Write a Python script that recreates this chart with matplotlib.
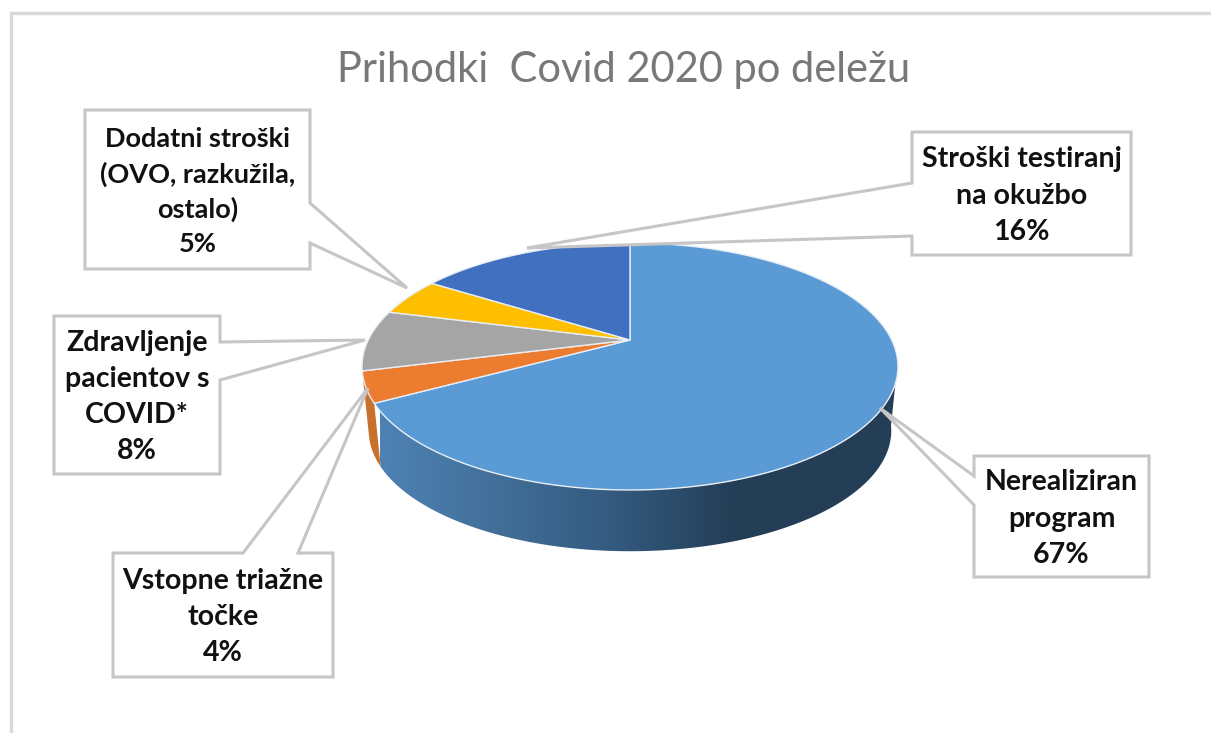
"""3D pie: Prihodki Covid 2020 po delezu."""

import numpy as np
import matplotlib
matplotlib.use("Agg")
import matplotlib.pyplot as plt
from matplotlib.colors import LinearSegmentedColormap
from matplotlib.patches import Polygon

plt.rcParams["font.family"] = ["Lato", "DejaVu Sans"]

TITLE = "Prihodki  Covid 2020 po deležu"
labels = ["Nerealiziran\nprogram", "Vstopne triažne\ntočke", "Zdravljenje\npacientov s\nCOVID*",
          "Dodatni stroški\n(OVO, razkužila,\nostalo)", "Stroški testiranj\nna okužbo"]
shares = [67, 4, 8, 5, 16]
colors = ["#5b9bd5", "#ec7c30", "#a5a5a5", "#fdbf00", "#4170c0"]

# callout boxes (x0, y0, x1, y1), pointer base side and tip, same order as labels
boxes = [(974, 456, 1149, 577), (113, 553, 333, 677), (54, 316, 220, 474),
         (85, 110, 310, 269), (912, 132, 1131, 255)]
base_a = [(974, 476), (298, 553), (220, 342), (310, 203), (912, 183)]
base_b = [(974, 505), (243, 553), (220, 380), (310, 243), (912, 236)]
tips = [(880, 408), (368, 388), (365, 340), (407, 288), (527, 248)]
label_sizes = [20.5, 20.5, 20.5, 19.5, 20.5]

# pie projection in picture pixels
CX, CY = 630, 340
A, B, K = 261.7, 117.8, 0.2146
SCALE, DROP = 0.975, 65


def rim(t, s=1.0, dy=0.0):
    # t is clockwise from the top, tilted circle with perspective
    x, y = np.sin(t), np.cos(t)
    d = 1 + K * y
    return np.column_stack([CX + s * A * x / d, CY + dy - s * B * y / d])


def wall(t0, t1):
    t = np.linspace(t0, t1, 120)
    return np.vstack([rim(t), rim(t[::-1], SCALE, DROP)])


fig = plt.figure(figsize=(12.11, 7.33), dpi=100)
ax = fig.add_axes([0, 0, 1, 1])
ax.set_xlim(0, 1211)
ax.set_ylim(733, 0)
ax.axis("off")

# chart frame
ax.plot([11, 11, 1211], [733, 13, 13], color="#d9d9d9", lw=2.4, solid_joinstyle="miter")

edges = np.radians(np.cumsum([0] + shares) * 3.6)

# side wall of the big slice, horizontal gradient
side = Polygon(wall(np.radians(100), edges[1]), closed=True, fc="none", ec="none",
               transform=ax.transData)
ax.add_patch(side)
stops = [(0.0, "#4e82b4"), (0.22, "#426f99"), (0.45, "#345a7f"), (0.68, "#233e56"), (1.0, "#233e56")]
cmap = LinearSegmentedColormap.from_list("side", stops)
im = ax.imshow(np.linspace(0, 1, 256)[None, :], extent=(380, 900, 560, 360), cmap=cmap, aspect="auto", zorder=2)
im.set_clip_path(side)
ax.set_xlim(0, 1211)
ax.set_ylim(733, 0)

# side of the small orange slice
ax.add_patch(Polygon(wall(edges[1], edges[2]), closed=True, fc="#c8702c", ec="none", zorder=2))

# top of the pie
for i, c in enumerate(colors):
    t = np.linspace(edges[i], edges[i + 1], 200)
    pts = np.vstack([[CX, CY], rim(t)])
    ax.add_patch(Polygon(pts, closed=True, fc=c, ec="#e8eef5", lw=1.0, zorder=3))

# callouts with their pointers
for lab, sh, box, pa, pb, tip, size in zip(labels, shares, boxes, base_a, base_b, tips, label_sizes):
    x0, y0, x1, y1 = box
    tl, tr, br, bl = (x0, y0), (x1, y0), (x1, y1), (x0, y1)
    # walk the box clockwise and cut in the pointer on the side it leaves from
    if pa[0] == x0:
        pts = [tl, tr, br, bl, pb, tip, pa]
    elif pa[0] == x1:
        pts = [tl, tr, pa, tip, pb, br, bl]
    else:
        pts = [bl, tl, pb, tip, pa, tr, br]
    ax.add_patch(Polygon(pts, closed=True, fc="white", ec="#c6c6c6", lw=2.2, zorder=4,
                         joinstyle="miter"))
    ax.text((x0 + x1) / 2, (y0 + y1) / 2 + 2, f"{lab}\n{sh}%", ha="center", va="center",
            fontsize=size, fontweight="bold", color="#111111", linespacing=1.49, zorder=5)

ax.text(624, 70, TITLE, ha="center", va="center", fontsize=30, color="#787878")

fig.savefig("out.png", dpi=100)
plt.close(fig)
